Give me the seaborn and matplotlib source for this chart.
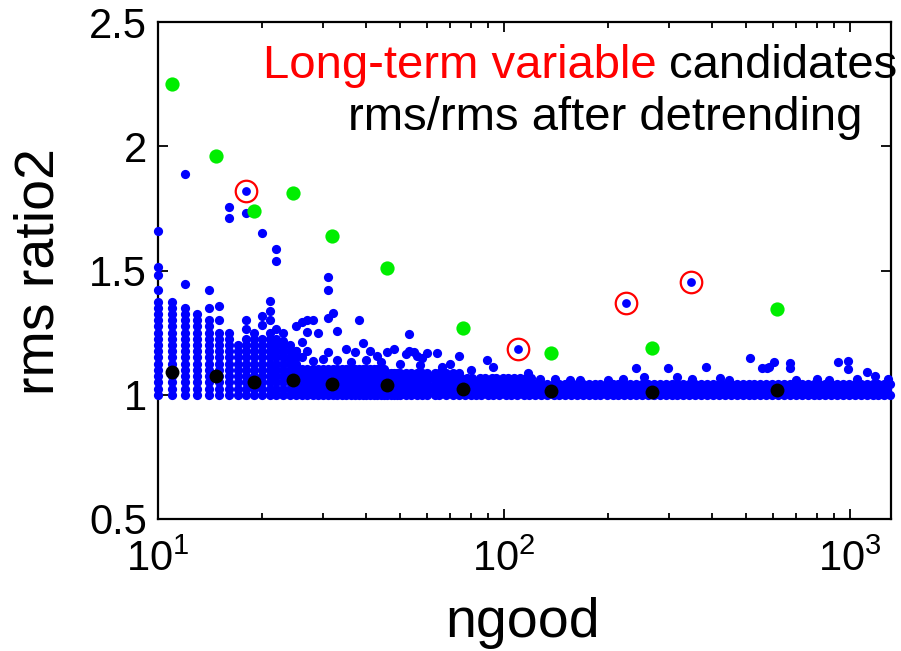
import matplotlib
matplotlib.use("Agg")
import matplotlib.pyplot as plt
import seaborn as sns
import pandas as pd
from matplotlib.ticker import LogLocator, NullFormatter, FixedLocator

# ---------------- data ----------------
# low-ngood vertical stripes (integer ngood), continuous part up to stripe_top
stripe_n = [10, 11, 12, 13, 14, 15, 16, 17, 18, 19, 20, 21, 22, 23, 24, 25]
stripe_top = [1.375, 1.375, 1.35, 1.325, 1.275, 1.25, 1.25, 1.2, 1.225, 1.25,
              1.225, 1.25, 1.225, 1.2, 1.2, 1.175]
stripe_levels = [1.0, 1.025, 1.05, 1.075, 1.1, 1.125, 1.15, 1.175, 1.2, 1.225,
                 1.25, 1.275, 1.3, 1.325, 1.35, 1.375]

# dense band near ratio 1 (two interleaved sets of ngood values)
band_n_a = [26, 27, 28, 29, 30, 31, 32, 33, 34, 35, 36, 37, 38, 39, 40, 41, 42,
            43, 44, 45, 46, 47, 48, 49, 50, 52, 54, 56, 58, 60, 63, 65, 68, 71,
            74, 77, 80, 83, 86, 90, 93, 97, 101, 105, 109, 114, 118, 123, 128,
            133, 139, 144, 150, 156, 162, 169, 176, 183, 190, 198, 206, 214, 222,
            231, 241, 250, 260, 271, 282, 293, 305, 317, 330, 343, 357, 371, 386,
            402, 418, 435, 452, 470, 489, 509, 529, 550, 572, 595, 619, 644, 670,
            697, 725, 754, 784, 815, 848, 882, 917, 954, 992, 1032, 1073, 1116,
            1161, 1207, 1255, 1300]
band_n_b = [26, 27, 28, 29, 30, 31, 32, 33, 34, 35, 36, 37, 38, 39, 40, 41, 42,
            43, 44, 45, 46, 47, 48, 49, 50, 51, 53, 55, 57, 59, 62, 64, 66, 69,
            72, 75, 78, 81, 85, 88, 92, 95, 99, 103, 107, 111, 116, 120, 125, 131,
            136, 141, 147, 153, 159, 166, 172, 179, 187, 194, 202, 210, 218, 227,
            236, 245, 255, 265, 276, 287, 299, 311, 323, 336, 350, 364, 378, 394,
            410, 426, 443, 461, 479, 499, 519, 539, 561, 583, 607, 631, 657, 683,
            711, 739, 769, 800, 832, 865, 900, 936, 973, 1012, 1052, 1095, 1138,
            1184, 1231, 1280]
band_levels = [1.0, 1.022, 1.044, 1.066, 1.088, 1.105]
band_sets = ["a", "b", "a", "b", "a", "b"]
band_max_n = [1300, 1300, 1300, 120, 75, 45]

# scattered blue points above the band
scatter_n = [10, 10, 10, 10, 12, 12, 14, 14, 14, 15, 15, 16, 16, 18, 18, 18,
             20, 20, 20, 21, 21, 21, 22, 22, 22, 23, 23, 25, 26, 27, 28, 29, 27,
             31, 31, 31, 32, 33, 38, 26, 25, 23, 27, 31, 35, 37, 39, 41, 43, 46,
             48, 53, 52, 53, 55, 56, 58, 60, 64, 74, 89, 93, 24, 26, 28, 30, 33,
             36, 40, 44, 50, 57, 66, 70, 80, 117, 127, 155, 166, 241, 254, 298,
             316, 384, 448, 513, 557, 575, 604, 583, 670, 670, 925, 985, 985,
             1120, 1180, 1290, 140, 200, 220, 350, 420, 700, 800, 870, 1050]
scatter_y = [1.66, 1.515, 1.48, 1.42, 1.89, 1.445, 1.42, 1.35, 1.30, 1.357,
             1.30, 1.755, 1.71, 1.73, 1.30, 1.265, 1.65, 1.317, 1.28, 1.377,
             1.337, 1.30, 1.587, 1.54, 1.265, 1.25, 1.216, 1.277, 1.293, 1.30,
             1.30, 1.25, 1.253, 1.474, 1.421, 1.31, 1.33, 1.257, 1.30, 1.212,
             1.176, 1.176, 1.176, 1.172, 1.184, 1.172, 1.208, 1.176, 1.156,
             1.172, 1.184, 1.245, 1.164, 1.176, 1.172, 1.156, 1.148, 1.168,
             1.166, 1.156, 1.14, 1.112, 1.14, 1.15, 1.135, 1.145, 1.14, 1.13,
             1.14, 1.13, 1.125, 1.12, 1.11, 1.125, 1.10, 1.087, 1.063, 1.058,
             1.058, 1.108, 1.071, 1.106, 1.071, 1.112, 1.058, 1.148, 1.106,
             1.106, 1.132, 1.11, 1.128, 1.108, 1.132, 1.136, 1.104, 1.09,
             1.075, 1.065, 1.065, 1.06, 1.065, 1.062, 1.066, 1.06, 1.062,
             1.058, 1.065]

# long-term variable candidates (red circles)
cand_n = [18, 110, 225, 348]
cand_y = [1.82, 1.184, 1.37, 1.454]

# binned statistics (green = upper envelope, black = typical level)
bin_n = [11, 14.7, 18.9, 24.6, 31.8, 45.9, 76.2, 137, 268, 613]
green_y = [2.25, 1.96, 1.74, 1.81, 1.64, 1.51, 1.27, 1.17, 1.19, 1.345]
black_y = [1.09, 1.075, 1.05, 1.06, 1.045, 1.04, 1.025, 1.015, 1.01, 1.02]

x_ticks = [10, 100, 1000]
y_ticks = [0.5, 1, 1.5, 2, 2.5]
y_ticklabels = ["0.5", "1", "1.5", "2", "2.5"]

# ---------------- build tables ----------------
rows = []
for n, top in zip(stripe_n, stripe_top):
    for lv in stripe_levels:
        if lv <= top + 1e-9:
            rows.append((n, lv))
for lv, s, mx in zip(band_levels, band_sets, band_max_n):
    base = band_n_a if s == "a" else band_n_b
    for n in base:
        if n <= mx:
            rows.append((n, lv))
rows += list(zip(scatter_n, scatter_y))
blue = pd.DataFrame(rows, columns=["ngood", "ratio"])
cand = pd.DataFrame({"ngood": cand_n, "ratio": cand_y})
bins = pd.DataFrame({"ngood": bin_n, "green": green_y, "black": black_y})

# ---------------- style ----------------
sns.set_style("ticks")
plt.rcParams["font.family"] = ["Liberation Sans", "DejaVu Sans"]
plt.rcParams["mathtext.fontset"] = "custom"
plt.rcParams["mathtext.rm"] = "Liberation Sans"
plt.rcParams["mathtext.it"] = "Liberation Sans"
for key in ["text.color", "axes.labelcolor", "xtick.color", "ytick.color",
            "xtick.labelcolor", "ytick.labelcolor"]:
    plt.rcParams[key] = "black"

W, H = 901, 651
fig = plt.figure(figsize=(W / 100, H / 100), dpi=100)
ax = fig.add_axes([158 / W, 132 / H, 733 / W, 497 / H])

BLUE = "#0000ff"
sns.scatterplot(data=blue, x="ngood", y="ratio", ax=ax, color=BLUE, s=44,
                linewidth=0, zorder=3, clip_on=False, legend=False)
sns.scatterplot(data=cand, x="ngood", y="ratio", ax=ax, s=240, marker="o",
                facecolor="white", edgecolor="#ff0000", linewidth=1.6,
                zorder=4, legend=False)
sns.scatterplot(data=cand, x="ngood", y="ratio", ax=ax, color=BLUE, s=40,
                linewidth=0, zorder=5, legend=False)
sns.scatterplot(data=bins, x="ngood", y="green", ax=ax, color="#00ee00", s=105,
                linewidth=0, zorder=6, legend=False)
sns.scatterplot(data=bins, x="ngood", y="black", ax=ax, color="black", s=100,
                linewidth=0, zorder=6, legend=False)

ax.set_xscale("log")
ax.set_xlim(10, 1313)
ax.set_ylim(0.5, 2.5)
ax.xaxis.set_major_locator(FixedLocator(x_ticks))
ax.xaxis.set_minor_locator(LogLocator(base=10, subs=range(2, 10)))
ax.xaxis.set_minor_formatter(NullFormatter())
ax.set_yticks(y_ticks)
ax.set_yticklabels(y_ticklabels)
ax.set_xlabel("")
ax.set_ylabel("")

for sp in ax.spines.values():
    sp.set_visible(True)
    sp.set_linewidth(1.6)
    sp.set_color("black")
ax.tick_params(which="both", direction="in", top=True, right=True,
               color="black", width=1.3)
ax.tick_params(which="major", length=7, labelsize=30, labelcolor="black")
ax.tick_params(axis="y", which="major", pad=8)
ax.tick_params(axis="x", which="major", pad=15)
ax.tick_params(which="minor", length=4)

fig.text(523 / W, 14 / H, "ngood", fontsize=40, ha="center", va="baseline",
         color="black")
fig.text(40 / W, (H - 272) / H, "rms ratio2", fontsize=40, rotation=90,
         ha="center", va="center", color="black")

# annotation text (two colours on the first line)
t_black = fig.text(897 / W, (H - 78) / H, "candidates", fontsize=34,
                   color="black", ha="right", va="baseline")
fig.canvas.draw()
bb = t_black.get_window_extent()
fig.text((bb.x0 - 12) / W, (H - 78) / H, "Long-term variable", fontsize=34,
         color="#ff0000", ha="right", va="baseline")
fig.text(862 / W, (H - 130) / H, "rms/rms after detrending", fontsize=34,
         color="black", ha="right", va="baseline")

fig.savefig("out.png", dpi=100)
